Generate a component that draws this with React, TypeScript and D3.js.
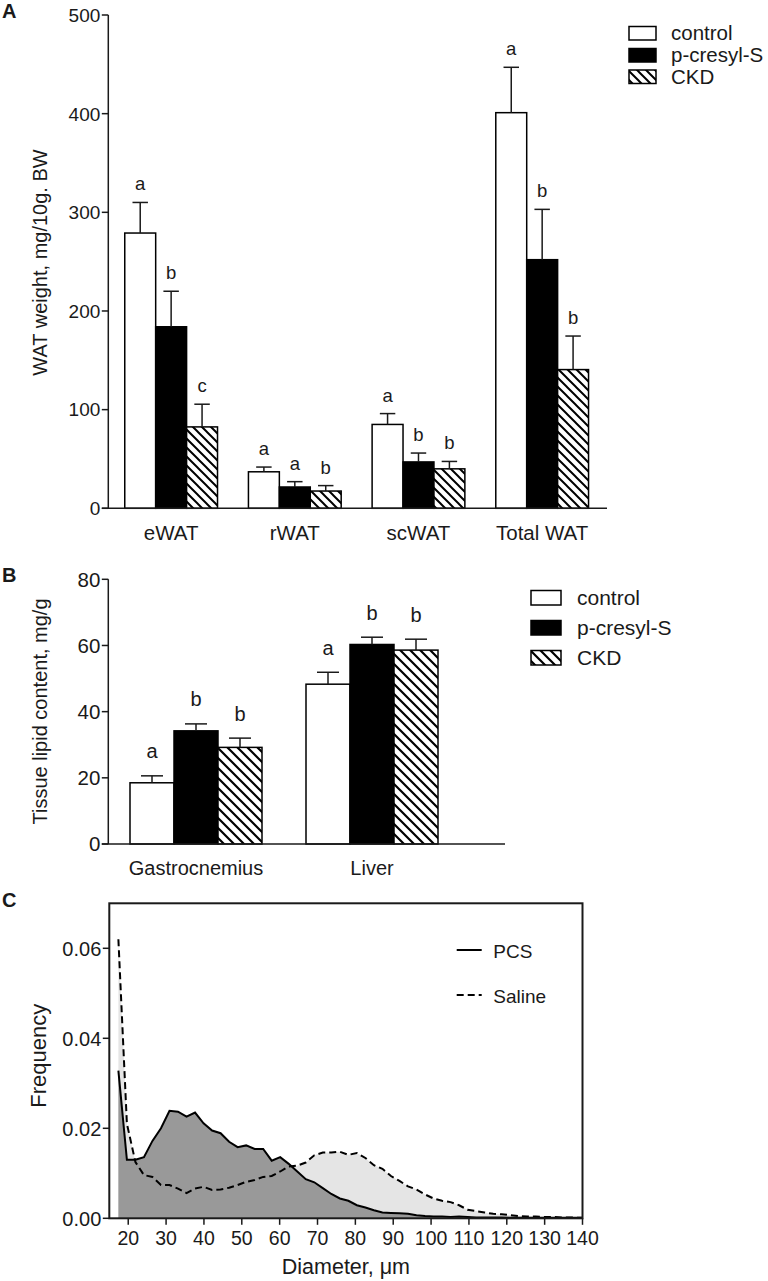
import React from "react";
import * as d3 from "d3";

// ---------- Panel A data ----------
const categoriesA = ["eWAT", "rWAT", "scWAT", "Total WAT"];
const seriesNames = ["control", "p-cresyl-S", "CKD"];
const controlA = [279, 37, 85, 401];
const pcresylA = [184, 21.6, 47, 252];
const ckdA = [82.5, 17.5, 40, 140.6];
const controlErrA = [31, 4.8, 11, 46];
const pcresylErrA = [36, 5.4, 9, 51];
const ckdErrA = [23, 5.5, 7.5, 34];
const controlLetA = ["a", "a", "a", "a"];
const pcresylLetA = ["b", "a", "b", "b"];
const ckdLetA = ["c", "b", "b", "b"];
const ticksA = [0, 100, 200, 300, 400, 500];

// ---------- Panel B data ----------
const categoriesB = ["Gastrocnemius", "Liver"];
const controlB = [18.5, 48.3];
const pcresylB = [34.2, 60.3];
const ckdB = [29.2, 58.6];
const controlErrB = [2.1, 3.6];
const pcresylErrB = [2.1, 2.2];
const ckdErrB = [2.8, 3.3];
const controlLetB = ["a", "a"];
const pcresylLetB = ["b", "b"];
const ckdLetB = ["b", "b"];
const ticksB = [0, 20, 40, 60, 80];

// ---------- Panel C data ----------
const diameter = [
  17.4, 19.65, 21.9, 24.15, 26.4, 28.65, 30.9, 33.15, 35.4, 37.65, 39.9, 42.15,
  44.4, 46.65, 48.9, 51.15, 53.4, 55.65, 57.9, 60.15, 62.4, 64.65, 66.9, 69.15,
  71.4, 73.65, 75.9, 78.15, 80.4, 82.65, 84.9, 87.15, 89.4, 91.65, 93.9, 96.15,
  98.4, 100.65, 102.9, 105.15, 107.4, 109.65, 111.9, 114.15, 116.4, 118.65,
  120.9, 123.15, 125.4, 127.65, 129.9, 132.15, 134.4, 136.65, 138.9, 140,
];
const pcs = [
  0.0328, 0.013, 0.013, 0.0136, 0.0172, 0.02, 0.0239, 0.0237, 0.0226, 0.0235,
  0.0211, 0.0195, 0.0189, 0.017, 0.0158, 0.0162, 0.0154, 0.0154, 0.0128,
  0.0136, 0.0121, 0.0104, 0.0087, 0.008, 0.0067, 0.0054, 0.0044, 0.0039,
  0.0029, 0.0024, 0.0018, 0.0013, 0.0012, 0.0011, 0.001, 0.0007, 0.0005,
  0.0004, 0.0004, 0.0003, 0.0004, 0.0003, 0.0002, 0.0002, 0.0002, 0.0002,
  0.0001, 0.0001, 0.0001, 0.0001, 0.0001, 0.0001, 0.0001, 0.0001, 0.0001,
  0.0001,
];
const saline = [
  0.062, 0.021, 0.0125, 0.0096, 0.0092, 0.0074, 0.0074, 0.0066, 0.0056,
  0.0066, 0.007, 0.0063, 0.0064, 0.0068, 0.0074, 0.0081, 0.0085, 0.0092,
  0.0094, 0.0104, 0.0115, 0.0117, 0.0124, 0.014, 0.0146, 0.0146, 0.0148,
  0.0141, 0.0145, 0.0134, 0.0118, 0.011, 0.0094, 0.0083, 0.0071, 0.0064,
  0.0053, 0.0044, 0.0039, 0.0036, 0.0029, 0.0019, 0.0016, 0.0013, 0.001,
  0.0009, 0.0007, 0.0005, 0.0004, 0.0004, 0.0003, 0.0003, 0.0002, 0.0002,
  0.0001, 0.0001,
];
const ticksCx = [20, 30, 40, 50, 60, 70, 80, 90, 100, 110, 120, 130, 140];
const ticksCy = [0, 0.02, 0.04, 0.06];

const FONT = "'Liberation Sans', Arial, Helvetica, sans-serif";
const INK = "#1a1a1a";

type BarPanelProps = {
  cats: string[];
  vals: number[][];
  errs: number[][];
  lets: string[][];
  ticks: number[];
  yMax: number;
  yTop: number;
  yBot: number;
  xRange: [number, number];
  axisLeft: number;
  axisRight: number;
  tickFont: number;
  catFont: number;
  catBaseline: number;
  letFont: number;
  letGap: number;
  hatchId: string;
};

function BarPanel(p: BarPanelProps) {
  const y = d3.scaleLinear().domain([0, p.yMax]).range([p.yBot, p.yTop]);
  const xg = d3
    .scaleBand<string>()
    .domain(p.cats)
    .range(p.xRange)
    .paddingInner(0.25)
    .paddingOuter(0.125);
  const xs = d3
    .scaleBand<string>()
    .domain(seriesNames)
    .range([0, xg.bandwidth()]);
  const fills = ["#ffffff", "#000000", `url(#${p.hatchId})`];
  const bw = xs.bandwidth();
  return (
    <g>
      {p.cats.map((c, ci) =>
        seriesNames.map((s, si) => {
          const v = p.vals[si][ci];
          const e = p.errs[si][ci];
          const x0 = (xg(c) as number) + (xs(s) as number);
          const cx = x0 + bw / 2;
          const top = y(v);
          const et = y(v + e);
          return (
            <g key={c + s}>
              <rect
                x={x0}
                y={top}
                width={bw}
                height={p.yBot - top}
                fill={fills[si]}
                stroke="#000"
                strokeWidth={1.5}
              />
              <line x1={cx} x2={cx} y1={top} y2={et} stroke={INK} strokeWidth={1.5} />
              <line
                x1={cx - bw / 4}
                x2={cx + bw / 4}
                y1={et}
                y2={et}
                stroke={INK}
                strokeWidth={1.5}
              />
              <text
                x={cx}
                y={et - p.letGap}
                textAnchor="middle"
                fontSize={p.letFont}
                fontFamily={FONT}
                fill={INK}
              >
                {p.lets[si][ci]}
              </text>
            </g>
          );
        })
      )}
      {/* axes */}
      <line
        x1={p.axisLeft}
        x2={p.axisLeft}
        y1={p.yTop}
        y2={p.yBot}
        stroke={INK}
        strokeWidth={1.5}
      />
      <line
        x1={p.axisLeft - 6.5}
        x2={p.axisRight}
        y1={p.yBot}
        y2={p.yBot}
        stroke={INK}
        strokeWidth={1.5}
      />
      {p.ticks.map((t) => (
        <g key={t}>
          <line
            x1={p.axisLeft - 6.5}
            x2={p.axisLeft}
            y1={y(t)}
            y2={y(t)}
            stroke={INK}
            strokeWidth={1.5}
          />
          <text
            x={p.axisLeft - 8}
            y={y(t)}
            dy="0.36em"
            textAnchor="end"
            fontSize={p.tickFont}
            fontFamily={FONT}
            fill={INK}
          >
            {t}
          </text>
        </g>
      ))}
      {p.cats.map((c) => (
        <text
          key={c}
          x={(xg(c) as number) + xg.bandwidth() / 2}
          y={p.catBaseline}
          textAnchor="middle"
          fontSize={p.catFont}
          fontFamily={FONT}
          fill={INK}
        >
          {c}
        </text>
      ))}
    </g>
  );
}

function Legend({
  x,
  baselines,
  boxW,
  boxH,
  textX,
  font,
  hatchId,
}: {
  x: number;
  baselines: number[];
  boxW: number;
  boxH: number;
  textX: number;
  font: number;
  hatchId: string;
}) {
  const fills = ["#ffffff", "#000000", `url(#${hatchId})`];
  return (
    <g>
      {seriesNames.map((s, i) => (
        <g key={s}>
          <rect
            x={x}
            y={baselines[i] - boxH}
            width={boxW}
            height={boxH}
            fill={fills[i]}
            stroke="#000"
            strokeWidth={1.5}
          />
          <text
            x={textX}
            y={baselines[i]}
            fontSize={font}
            fontFamily={FONT}
            fill={INK}
          >
            {s}
          </text>
        </g>
      ))}
    </g>
  );
}

function PanelC() {
  const left = 109.3;
  const right = 582.5;
  const top = 903.3;
  const bot = 1218.3;
  const x = d3.scaleLinear().domain([15, 140]).range([left, right]);
  const y = d3.scaleLinear().domain([0, 0.07]).range([bot, top]);
  const pts = diameter.map((d, i) => ({ d, p: pcs[i], s: saline[i] }));
  const areaS = d3
    .area<(typeof pts)[number]>()
    .x((q) => x(q.d))
    .y0(bot)
    .y1((q) => y(q.s));
  const areaP = d3
    .area<(typeof pts)[number]>()
    .x((q) => x(q.d))
    .y0(bot)
    .y1((q) => y(q.p));
  const lineS = d3
    .line<(typeof pts)[number]>()
    .x((q) => x(q.d))
    .y((q) => y(q.s));
  const lineP = d3
    .line<(typeof pts)[number]>()
    .x((q) => x(q.d))
    .y((q) => y(q.p));
  return (
    <g>
      <path d={areaS(pts) || ""} fill="#e5e5e5" />
      <path d={areaP(pts) || ""} fill="#999999" />
      <path
        d={lineS(pts) || ""}
        fill="none"
        stroke="#000"
        strokeWidth={2}
        strokeDasharray="7,4"
      />
      <path d={lineP(pts) || ""} fill="none" stroke="#000" strokeWidth={2} />
      <rect
        x={left}
        y={top}
        width={right - left}
        height={bot - top}
        fill="none"
        stroke={INK}
        strokeWidth={2}
      />
      {ticksCy.map((t) => (
        <g key={t}>
          <line x1={left - 6.5} x2={left} y1={y(t)} y2={y(t)} stroke={INK} strokeWidth={1.5} />
          <text
            x={left - 8}
            y={y(t)}
            dy="0.36em"
            textAnchor="end"
            fontSize={20}
            fontFamily={FONT}
            fill={INK}
          >
            {d3.format(".2f")(t)}
          </text>
        </g>
      ))}
      {ticksCx.map((t) => (
        <g key={t}>
          <line x1={x(t)} x2={x(t)} y1={bot} y2={bot + 6.5} stroke={INK} strokeWidth={1.5} />
          <text
            x={x(t)}
            y={1245}
            textAnchor="middle"
            fontSize={19.5}
            fontFamily={FONT}
            fill={INK}
          >
            {t}
          </text>
        </g>
      ))}
      <text
        x={(left + right) / 2}
        y={1274}
        textAnchor="middle"
        fontSize={21.5}
        fontFamily={FONT}
        fill={INK}
      >
        Diameter, μm
      </text>
      <text
        transform={`translate(46,${(top + bot) / 2 - 5}) rotate(-90)`}
        textAnchor="middle"
        fontSize={22}
        fontFamily={FONT}
        fill={INK}
      >
        Frequency
      </text>
      {/* legend */}
      <line x1={456.7} x2={481.7} y1={950} y2={950} stroke="#000" strokeWidth={2} />
      <text x={493.3} y={958} fontSize={19} fontFamily={FONT} fill={INK}>
        PCS
      </text>
      <line
        x1={456.7}
        x2={481.7}
        y1={995}
        y2={995}
        stroke="#000"
        strokeWidth={2}
        strokeDasharray="7,4"
      />
      <text x={493.3} y={1003} fontSize={19} fontFamily={FONT} fill={INK}>
        Saline
      </text>
    </g>
  );
}

export default function App() {
  return (
    <svg
      width={768}
      height={1281}
      viewBox="0 0 768 1281"
      style={{ position: "absolute", left: 0, top: 0, background: "#fff" }}
    >
      <defs>
        <pattern id="hatchA" patternUnits="userSpaceOnUse" width={9} height={9}>
          <rect width={9} height={9} fill="#fff" />
          <path d="M0,0 L9,9 M-2,7 L2,11 M7,-2 L11,2" stroke="#000" strokeWidth={2} />
        </pattern>
        <pattern id="hatchB" patternUnits="userSpaceOnUse" width={10} height={10}>
          <rect width={10} height={10} fill="#fff" />
          <path d="M0,0 L10,10 M-2,8 L2,12 M8,-2 L12,2" stroke="#000" strokeWidth={2.2} />
        </pattern>
      </defs>
      <rect width={768} height={1281} fill="#fff" />

      {/* Panel A */}
      <text x={2} y={18} fontSize={20} fontWeight="bold" fontFamily={FONT} fill={INK}>
        A
      </text>
      <text
        transform="translate(47,262.5) rotate(-90)"
        textAnchor="middle"
        fontSize={20}
        fontFamily={FONT}
        fill={INK}
      >
        WAT weight, mg/10g. BW
      </text>
      <BarPanel
        cats={categoriesA}
        vals={[controlA, pcresylA, ckdA]}
        errs={[controlErrA, pcresylErrA, ckdErrA]}
        lets={[controlLetA, pcresylLetA, ckdLetA]}
        ticks={ticksA}
        yMax={500}
        yTop={15}
        yBot={508.3}
        xRange={[109.3, 604]}
        axisLeft={108.3}
        axisRight={607}
        tickFont={19}
        catFont={20.5}
        catBaseline={539.5}
        letFont={18.5}
        letGap={12}
        hatchId="hatchA"
      />
      <Legend
        x={629}
        baselines={[40, 62, 83.5]}
        boxW={27}
        boxH={13.5}
        textX={671}
        font={20.5}
        hatchId="hatchA"
      />

      {/* Panel B */}
      <text x={2} y={582} fontSize={20} fontWeight="bold" fontFamily={FONT} fill={INK}>
        B
      </text>
      <text
        transform="translate(47,711.5) rotate(-90)"
        textAnchor="middle"
        fontSize={20}
        fontFamily={FONT}
        fill={INK}
      >
        Tissue lipid content, mg/g
      </text>
      <BarPanel
        cats={categoriesB}
        vals={[controlB, pcresylB, ckdB]}
        errs={[controlErrB, pcresylErrB, ckdErrB]}
        lets={[controlLetB, pcresylLetB, ckdLetB]}
        ticks={ticksB}
        yMax={80}
        yTop={579.3}
        yBot={844}
        xRange={[108, 460]}
        axisLeft={108.3}
        axisRight={505}
        tickFont={20.5}
        catFont={20}
        catBaseline={875}
        letFont={20}
        letGap={17.5}
        hatchId="hatchB"
      />
      <Legend
        x={531}
        baselines={[605, 635, 665]}
        boxW={30}
        boxH={14.5}
        textX={577}
        font={21}
        hatchId="hatchB"
      />

      {/* Panel C */}
      <text x={2} y={906.5} fontSize={20} fontWeight="bold" fontFamily={FONT} fill={INK}>
        C
      </text>
      <PanelC />
    </svg>
  );
}
